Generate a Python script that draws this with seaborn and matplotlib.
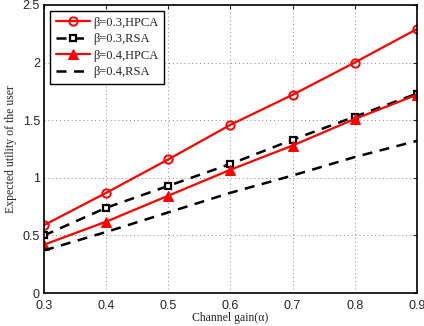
import pandas as pd
import matplotlib
matplotlib.use('Agg')
import matplotlib.pyplot as plt
import seaborn as sns

alpha = [0.3, 0.4, 0.5, 0.6, 0.7, 0.8, 0.9]
hpca_03 = [0.59, 0.87, 1.16, 1.46, 1.72, 2.00, 2.29]
rsa_03 = [0.50, 0.74, 0.93, 1.12, 1.33, 1.53, 1.73]
hpca_04 = [0.42, 0.62, 0.845, 1.07, 1.28, 1.51, 1.72]
rsa_04 = [0.37, 0.53, 0.70, 0.87, 1.02, 1.18, 1.32]

labels = ['β=0.3,HPCA', 'β=0.3,RSA', 'β=0.4,HPCA', 'β=0.4,RSA']

sns.set_style('white')
plt.rcParams['font.family'] = ['Liberation Sans', 'DejaVu Sans']
serif = ['Liberation Serif', 'DejaVu Serif']

df = pd.DataFrame({'alpha': alpha, labels[0]: hpca_03, labels[1]: rsa_03,
                   labels[2]: hpca_04, labels[3]: rsa_04})

fig = plt.figure(figsize=(4.24, 3.26), dpi=100)
ax = fig.add_axes([0.104, 0.101, 0.879, 0.884])

sns.lineplot(data=df, x='alpha', y=labels[0], ax=ax, color='red', lw=1.6,
             marker='o', markersize=6, markerfacecolor='none', markeredgecolor='red',
             markeredgewidth=1.4, label=labels[0])
sns.lineplot(data=df, x='alpha', y=labels[1], ax=ax, color='black', lw=1.8,
             linestyle=(0, (4, 3)), marker='s', markersize=5, markerfacecolor='white',
             markeredgecolor='black', markeredgewidth=1.6, label=labels[1])
sns.lineplot(data=df, x='alpha', y=labels[2], ax=ax, color='red', lw=1.6,
             marker='^', markersize=7, markerfacecolor='red', markeredgecolor='red',
             label=labels[2])
sns.lineplot(data=df, x='alpha', y=labels[3], ax=ax, color='black', lw=1.8,
             linestyle=(0, (4, 3)), label=labels[3])

ax.set_xlim(0.3, 0.9)
ax.set_ylim(0, 2.5)
ax.set_xticks([0.3, 0.4, 0.5, 0.6, 0.7, 0.8, 0.9])
ax.set_yticks([0, 0.5, 1, 1.5, 2, 2.5])
ax.set_xticklabels(['0.3', '0.4', '0.5', '0.6', '0.7', '0.8', '0.9'])
ax.set_yticklabels(['0', '0.5', '1', '1.5', '2', '2.5'])
ax.tick_params(direction='in', top=True, right=True, labelsize=9, length=3, width=0.8)
ax.tick_params(axis='x', pad=5)
ax.tick_params(axis='y', pad=3)
ax.grid(True, linestyle=(0, (1, 3)), color='#888888', linewidth=0.7)
for s in ax.spines.values():
    s.set_color('black')
    s.set_linewidth(1.2)

ax.set_xlabel('Channel gain(α)', family=serif, fontsize=8.5, labelpad=0)
ax.set_ylabel('Expected utility of the user', family=serif, fontsize=8.5, labelpad=4)

leg = ax.legend(loc='upper left', prop={'family': serif, 'size': 9},
                fancybox=False, framealpha=1, edgecolor='black', handlelength=2.7,
                handletextpad=0.3, borderpad=0.45, labelspacing=0.35, borderaxespad=0.5)
leg.get_frame().set_linewidth(1.0)

fig.savefig('out.png', dpi=100)
